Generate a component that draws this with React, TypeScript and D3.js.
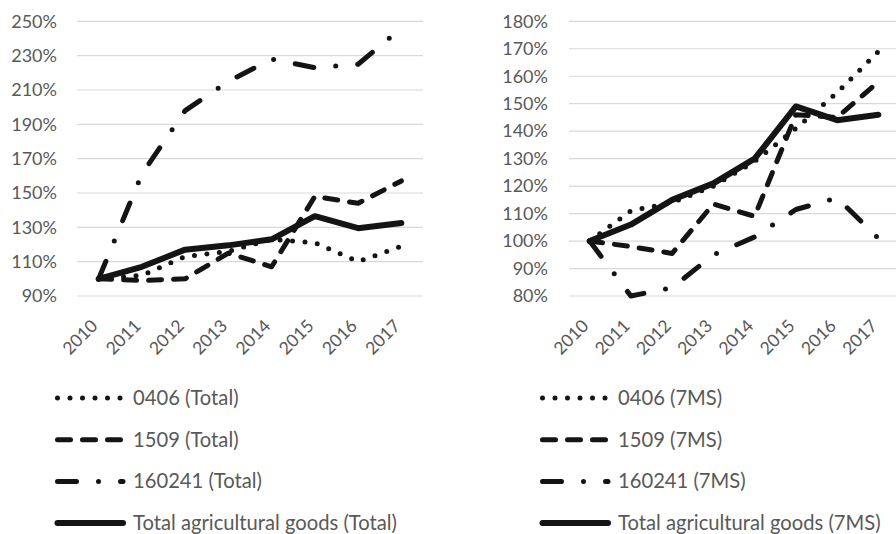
import React from "react";
import * as d3 from "d3";

const years = ["2010", "2011", "2012", "2013", "2014", "2015", "2016", "2017"];

// left panel: Total
const total0406 = [100, 102, 113, 116, 123, 121, 110, 119];
const total1509 = [100, 99, 100, 115, 107, 148, 144, 157];
const total160241 = [100, 161, 198, 215, 228, 223, 225, 246];
const totalAgri = [100, 107, 117, 119.5, 123, 136.5, 129.5, 132.5];
const leftTicks = [90, 110, 130, 150, 170, 190, 210, 230, 250];

// right panel: 7MS
const ms0406 = [100, 111, 114, 120, 129, 141, 154, 169];
const ms1509 = [100, 98, 95.5, 113.5, 109, 146, 145, 158];
const ms160241 = [100, 80, 83, 95, 101.5, 111.5, 115.7, 101];
const msAgri = [100, 106, 115, 121, 130, 149, 144, 146];
const rightTicks = [80, 90, 100, 110, 120, 130, 140, 150, 160, 170, 180];

const styles = [
  { dash: "0 12.5", width: 5 },
  { dash: "13 12", width: 5 },
  { dash: "19 22 0 22", width: 5 },
  { dash: "none", width: 6 },
];

const FONT = "Lato, 'Open Sans', sans-serif";
const GREY = "#595959";
const INK = "#141414";

type PanelProps = {
  series: number[][];
  names: string[];
  ticks: number[];
  x0: number;
  x1: number;
  labelRight: number;
  legendX: number;
};

function Panel({ series, names, ticks, x0, x1, labelRight, legendX }: PanelProps) {
  const top = 21.3;
  const bottom = 296;
  const x = d3.scaleBand<string>().domain(years).range([x0, x1]);
  const y = d3
    .scaleLinear()
    .domain([ticks[0], ticks[ticks.length - 1]])
    .range([bottom, top]);
  const cx = (yr: string) => (x(yr) ?? 0) + x.bandwidth() / 2;
  const line = d3
    .line<number>()
    .x((_, i) => cx(years[i]))
    .y((v) => y(v));
  const gridRight = Math.min(x1, 896);

  return (
    <g>
      {ticks.map((t) => (
        <g key={t}>
          <line x1={x0} x2={gridRight} y1={y(t)} y2={y(t)} stroke="#d9d9d9" strokeWidth={1.2} />
          <text
            x={labelRight}
            y={y(t)}
            dy="0.35em"
            textAnchor="end"
            fontSize={18}
            fill={GREY}
            fontFamily={FONT}
          >
            {t}%
          </text>
        </g>
      ))}
      {years.map((yr) => (
        <text
          key={yr}
          transform={`translate(${cx(yr)},${327}) rotate(-45)`}
          textAnchor="end"
          fontSize={17.5}
          fill={GREY}
          fontFamily={FONT}
        >
          {yr}
        </text>
      ))}
      {series.map((s, i) => (
        <path
          key={i}
          d={line(s) ?? ""}
          fill="none"
          stroke={INK}
          strokeWidth={styles[i].width}
          strokeDasharray={styles[i].dash}
          strokeLinecap="round"
          strokeLinejoin="round"
        />
      ))}
      {names.map((n, i) => {
        const ly = 398 + i * 41.7;
        return (
          <g key={n}>
            <line
              x1={legendX + 2.5}
              x2={legendX + 68}
              y1={ly}
              y2={ly}
              stroke={INK}
              strokeWidth={styles[i].width}
              strokeDasharray={styles[i].dash}
              strokeLinecap="round"
            />
            <text
              x={legendX + 78}
              y={ly}
              dy="0.35em"
              fontSize={20.2}
              fill={GREY}
              fontFamily={FONT}
            >
              {n}
            </text>
          </g>
        );
      })}
    </g>
  );
}

export default function App() {
  return (
    <svg
      width={896}
      height={534}
      style={{ position: "absolute", left: 0, top: 0, background: "#fff" }}
    >
      <Panel
        series={[total0406, total1509, total160241, totalAgri]}
        names={["0406 (Total)", "1509 (Total)", "160241 (Total)", "Total agricultural goods (Total)"]}
        ticks={leftTicks}
        x0={77}
        x1={423}
        labelRight={57}
        legendX={55}
      />
      <Panel
        series={[ms0406, ms1509, ms160241, msAgri]}
        names={["0406 (7MS)", "1509 (7MS)", "160241 (7MS)", "Total agricultural goods (7MS)"]}
        ticks={rightTicks}
        x0={569}
        x1={899}
        labelRight={548}
        legendX={540}
      />
    </svg>
  );
}
